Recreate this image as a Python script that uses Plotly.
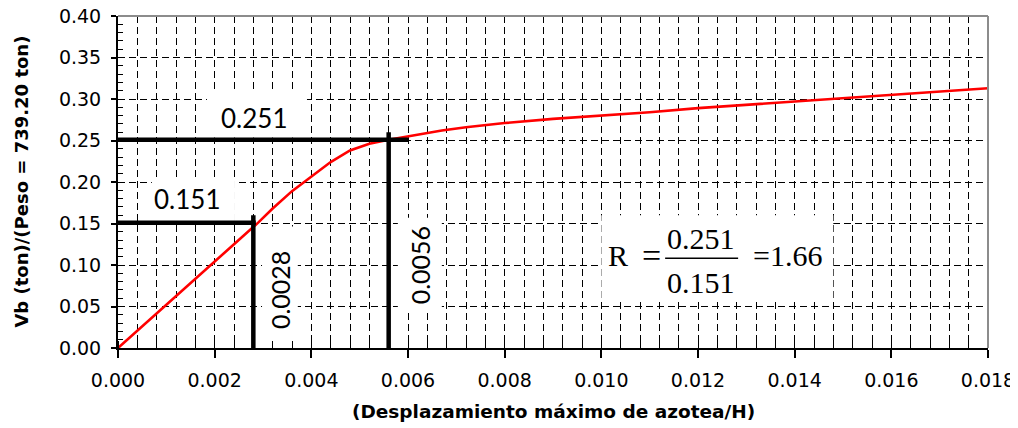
import plotly.graph_objects as go

# ---- data ----
disp = [0.0, 0.0004, 0.0008, 0.0012, 0.0016, 0.0020, 0.0024, 0.0029, 0.0032, 0.0036,
        0.0040, 0.0044, 0.0048, 0.0052, 0.0056, 0.0061, 0.0067, 0.0072, 0.0080,
        0.0090, 0.0100, 0.0110, 0.0120, 0.0130, 0.0140, 0.0150, 0.0160, 0.0170, 0.0180]
shear = [0.0, 0.021, 0.042, 0.063, 0.084, 0.104, 0.125, 0.151, 0.168, 0.189,
         0.206, 0.224, 0.238, 0.246, 0.251, 0.256, 0.262, 0.266, 0.271,
         0.276, 0.280, 0.284, 0.289, 0.293, 0.297, 0.301, 0.305, 0.309, 0.313]

ref_x = [0.0028, 0.0056]      # displacement ratios marked
ref_y = [0.151, 0.251]        # corresponding Vb/W values
ratio_label = "1.66"

x_ticks = [0.000, 0.002, 0.004, 0.006, 0.008, 0.010, 0.012, 0.014, 0.016, 0.018]
y_ticks = [0.00, 0.05, 0.10, 0.15, 0.20, 0.25, 0.30, 0.35, 0.40]

fig = go.Figure()

# pushover curve
fig.add_trace(go.Scatter(x=disp, y=shear, mode="lines",
                         line=dict(color="#ff0000", width=2.6), showlegend=False,
                         hoverinfo="skip"))

# reference lines
h_start = [0.0, -0.0001]
h_over = [0.00005, 0.0004]
for rx, ry, hs, ho in zip(ref_x, ref_y, h_start, h_over):
    fig.add_trace(go.Scatter(x=[hs, rx + ho], y=[ry, ry], mode="lines",
                             line=dict(color="black", width=4.5), showlegend=False,
                             cliponaxis=False, hoverinfo="skip"))
    fig.add_trace(go.Scatter(x=[rx, rx], y=[-0.013, ry + 0.009], mode="lines",
                             line=dict(color="black", width=4.5), showlegend=False,
                             cliponaxis=False, hoverinfo="skip"))

# white label boxes (between grid and traces)
boxes = [
    (0.00184, 0.00391, 0.2535, 0.3075),
    (0.00070, 0.00242, 0.1526, 0.2054),
    (0.00298, 0.00372, 0.0060, 0.1465),
    (0.00579, 0.00670, 0.0456, 0.1570),
    (0.01000, 0.01480, 0.0600, 0.1600),
]
shapes = []
for x0, x1, y0, y1 in boxes:
    shapes.append(dict(type="rect", xref="x", yref="y", x0=x0, x1=x1, y0=y0, y1=y1,
                       fillcolor="white", line=dict(width=0), layer="between"))
# fraction bar
shapes.append(dict(type="line", xref="x", yref="y", x0=0.01132, x1=0.01283,
                   y0=0.108, y1=0.108, line=dict(color="black", width=1.5), layer="above"))
# grey top / right border of plot area
shapes.append(dict(type="line", xref="paper", yref="paper", x0=0, x1=1, y0=1, y1=1,
                   line=dict(color="#8c8c8c", width=2), layer="above"))
shapes.append(dict(type="line", xref="paper", yref="paper", x0=1, x1=1, y0=0, y1=1,
                   line=dict(color="#8c8c8c", width=2), layer="above"))

lbl_font = dict(family="Lato", size=26, color="black")
frm_font = dict(family="Liberation Serif", size=30, color="black")
annotations = [
    dict(x=0.00281, y=0.2775, text=f"{ref_y[1]:.3f}", font=lbl_font),
    dict(x=0.00143, y=0.179, text=f"{ref_y[0]:.3f}", font=lbl_font),
    dict(x=0.00335, y=0.0697, text=f"{ref_x[0]:.4f}", font=dict(lbl_font, size=25), textangle=-90),
    dict(x=0.00625, y=0.0997, text=f"{ref_x[1]:.4f}", font=dict(lbl_font, size=25), textangle=-90),
    dict(x=0.01035, y=0.1110, text="R", font=frm_font),
    dict(x=0.01103, y=0.1110, text="=", font=dict(frm_font, size=34)),
    dict(x=0.01207, y=0.1325, text=f"{ref_y[1]:.3f}", font=frm_font),
    dict(x=0.01207, y=0.0795, text=f"{ref_y[0]:.3f}", font=frm_font),
    dict(x=0.01386, y=0.1110, text="=" + ratio_label, font=frm_font),
    # axis titles
    dict(x=0.5, y=-0.19, xref="paper", yref="paper", text="<b>(Desplazamiento máximo de azotea/H)</b>",
         font=dict(family="DejaVu Sans", size=18.5, color="black"), yanchor="middle"),
    dict(x=-0.112, y=0.5, xref="paper", yref="paper", text="<b>Vb (ton)/(Peso = 739.20 ton)</b>",
         font=dict(family="DejaVu Sans", size=18, color="black"), textangle=-90, xanchor="center"),
]
for a in annotations:
    a.setdefault("xref", "x")
    a.setdefault("yref", "y")
    a.setdefault("showarrow", False)

dash = "7px,4px"
# page body has an 8px default margin, so the figure is sized/offset to compensate
fig.update_layout(
    width=1010, height=420,
    margin=dict(l=110, r=30, t=8, b=80, autoexpand=False),
    paper_bgcolor="white", plot_bgcolor="white",
    shapes=shapes, annotations=annotations,
    xaxis=dict(range=[0, 0.018], tickvals=x_ticks, tickformat=".3f", automargin=False,
               ticklabeloverflow="allow",
               showline=True, linecolor="black", linewidth=2,
               ticks="outside", ticklen=8, tickwidth=1.5, tickcolor="black",
               showgrid=True, gridcolor="black", gridwidth=1, griddash=dash,
               zeroline=False, ticklabelstandoff=6,
               tickfont=dict(family="DejaVu Sans", size=19, color="black"),
               minor=dict(dtick=0.0004, tick0=0, ticks="inside", ticklen=7, tickcolor="black",
                          tickwidth=1, showgrid=True, gridcolor="black", gridwidth=1,
                          griddash=dash)),
    yaxis=dict(range=[0, 0.40], tickvals=y_ticks, tickformat=".2f", automargin=False,
               ticklabeloverflow="allow",
               showline=True, linecolor="black", linewidth=2,
               ticks="outside", ticklen=5, tickwidth=1.5, tickcolor="black",
               showgrid=True, gridcolor="black", gridwidth=1, griddash=dash,
               zeroline=False, ticklabelstandoff=6,
               tickfont=dict(family="DejaVu Sans", size=19, color="black"),
               minor=dict(dtick=0.01, tick0=0, ticks="inside", ticklen=5, tickcolor="black",
                          tickwidth=1, showgrid=False)),
)

fig.write_html("out.html")
